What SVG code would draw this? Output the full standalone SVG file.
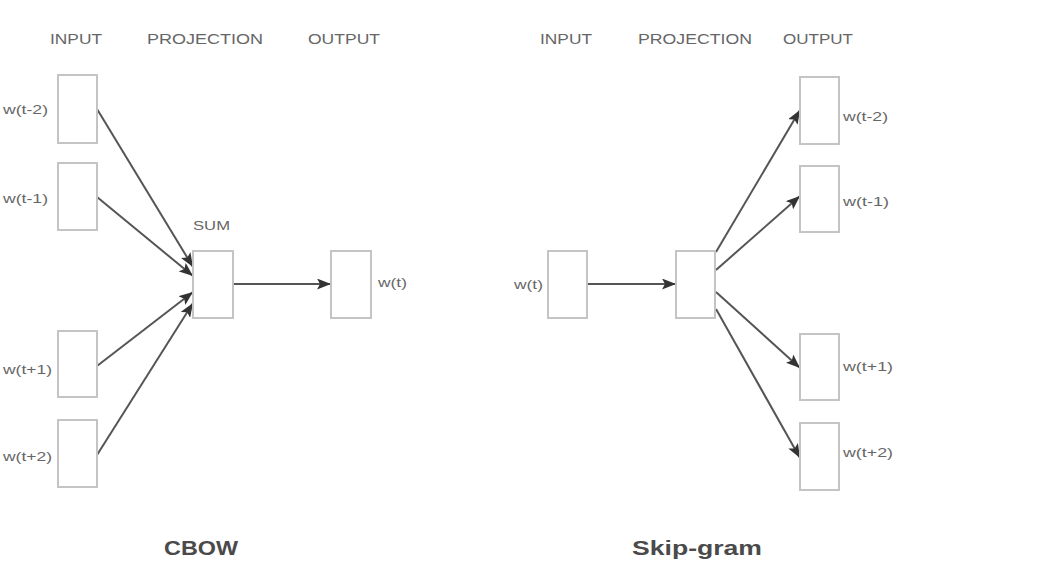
<svg xmlns="http://www.w3.org/2000/svg" width="1063" height="566" viewBox="0 0 1063 566">
<defs>
<style>
.box{fill:#fff;stroke:#c4c4c4;stroke-width:2}
.hd{font-family:"Liberation Sans",Arial,sans-serif;font-size:15px;fill:#666}
.lb{font-family:"Liberation Sans",Arial,sans-serif;font-size:13px;fill:#666}
.tt{font-family:"Liberation Sans",Arial,sans-serif;font-size:21px;font-weight:bold;fill:#4a4a4a}
.cn{stroke:#555;stroke-width:2;fill:none;marker-end:url(#ah)}
</style>
<marker id="ah" viewBox="0 0 14 11" refX="14" refY="5.5" markerWidth="14" markerHeight="11" markerUnits="userSpaceOnUse" orient="auto">
<path d="M0,0 L14,5.5 L0,11 L3,5.5 z" fill="#333"/>
</marker>
</defs>
<rect width="1063" height="566" fill="#fff"/>
<g id="headers">
<text class="hd" x="50" y="44" textLength="52" lengthAdjust="spacingAndGlyphs">INPUT</text>
<text class="hd" x="147" y="44" textLength="116" lengthAdjust="spacingAndGlyphs">PROJECTION</text>
<text class="hd" x="308" y="44" textLength="72" lengthAdjust="spacingAndGlyphs">OUTPUT</text>
<text class="hd" x="540" y="44" textLength="52" lengthAdjust="spacingAndGlyphs">INPUT</text>
<text class="hd" x="638" y="44" textLength="114" lengthAdjust="spacingAndGlyphs">PROJECTION</text>
<text class="hd" x="783" y="44" textLength="70" lengthAdjust="spacingAndGlyphs">OUTPUT</text>
</g>
<g id="connectors">
<line class="cn" x1="97" y1="109" x2="193" y2="267"/>
<line class="cn" x1="97" y1="197" x2="193" y2="276"/>
<line class="cn" x1="97" y1="366" x2="193" y2="292"/>
<line class="cn" x1="97" y1="455" x2="193" y2="303"/>
<line class="cn" x1="233" y1="284" x2="331" y2="284"/>
<line class="cn" x1="587" y1="284" x2="676" y2="284"/>
<line class="cn" x1="716" y1="252" x2="800" y2="110"/>
<line class="cn" x1="716" y1="270" x2="800" y2="196"/>
<line class="cn" x1="716" y1="292" x2="800" y2="368"/>
<line class="cn" x1="716" y1="309" x2="800" y2="458"/>
</g>
<g id="cbow-in-t-2"><rect class="box" x="58" y="75" width="39" height="68"/><text class="lb" x="3" y="114" textLength="45" lengthAdjust="spacingAndGlyphs">w(t-2)</text></g>
<g id="cbow-in-t-1"><rect class="box" x="58" y="163" width="39" height="67"/><text class="lb" x="3" y="203" textLength="45" lengthAdjust="spacingAndGlyphs">w(t-1)</text></g>
<g id="cbow-in-t+1"><rect class="box" x="58" y="331" width="39" height="66"/><text class="lb" x="3" y="374" textLength="49" lengthAdjust="spacingAndGlyphs">w(t+1)</text></g>
<g id="cbow-in-t+2"><rect class="box" x="58" y="420" width="39" height="67"/><text class="lb" x="3" y="461" textLength="49" lengthAdjust="spacingAndGlyphs">w(t+2)</text></g>
<g id="cbow-sum"><rect class="box" x="193" y="251" width="40" height="67"/><text class="lb" x="193" y="230" textLength="37" lengthAdjust="spacingAndGlyphs">SUM</text></g>
<g id="cbow-out"><rect class="box" x="331" y="251" width="40" height="67"/><text class="lb" x="378" y="287" textLength="29" lengthAdjust="spacingAndGlyphs">w(t)</text></g>
<g id="sg-in"><rect class="box" x="548" y="251" width="39" height="67"/><text class="lb" x="514" y="289" textLength="29" lengthAdjust="spacingAndGlyphs">w(t)</text></g>
<g id="sg-proj"><rect class="box" x="676" y="251" width="39" height="67"/></g>
<g id="sg-out-t-2"><rect class="box" x="800" y="77" width="39" height="67"/><text class="lb" x="843" y="121" textLength="45" lengthAdjust="spacingAndGlyphs">w(t-2)</text></g>
<g id="sg-out-t-1"><rect class="box" x="800" y="166" width="39" height="66"/><text class="lb" x="843" y="206" textLength="46" lengthAdjust="spacingAndGlyphs">w(t-1)</text></g>
<g id="sg-out-t+1"><rect class="box" x="800" y="334" width="39" height="66"/><text class="lb" x="843" y="371" textLength="50" lengthAdjust="spacingAndGlyphs">w(t+1)</text></g>
<g id="sg-out-t+2"><rect class="box" x="800" y="423" width="39" height="67"/><text class="lb" x="843" y="457" textLength="50" lengthAdjust="spacingAndGlyphs">w(t+2)</text></g>
<g id="titles">
<text class="tt" x="164" y="555" textLength="74" lengthAdjust="spacingAndGlyphs">CBOW</text>
<text class="tt" x="632" y="555" textLength="130" lengthAdjust="spacingAndGlyphs">Skip-gram</text>
</g>
</svg>
